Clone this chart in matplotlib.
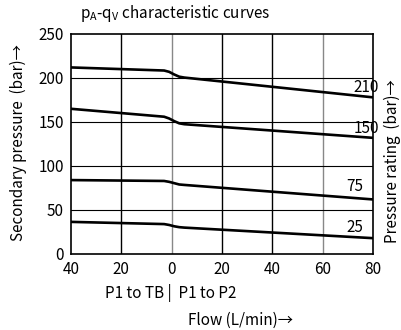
import matplotlib
matplotlib.use("Agg")
import matplotlib.pyplot as plt

plt.rcParams['font.family'] = ['Noto Sans CJK SC', 'DejaVu Sans']

# flow: negative = P1 to TB, positive = P1 to P2
flow = [-40, -3, -1, 1, 3, 5, 80]
p210 = [212, 208.5, 207, 204, 201.5, 200.5, 178]
p150 = [165, 156, 154, 151, 148.5, 147.5, 132]
p75 = [84, 83, 82, 80.5, 79, 78.5, 62]
p25 = [36.5, 34, 33, 31.5, 30.5, 30, 18]
ratings = ['210', '150', '75', '25']
xticks = [-40, -20, 0, 20, 40, 60, 80]
xticklabels = ['40', '20', '0', '20', '40', '60', '80']
yticks = [0, 50, 100, 150, 200, 250]

fig = plt.figure(figsize=(4.01, 3.30), dpi=100)
ax = fig.add_axes([71 / 401, 76 / 330, 302 / 401, 220 / 330])

for ys in [p210, p150, p75, p25]:
    ax.plot(flow, ys, color='black', linewidth=1.9, solid_capstyle='butt')

# label position: (right edge in flow units, baseline in bar)
label_pos = [(82.5, 184), (82.5, 137.5), (76, 71.5), (76, 25)]
for txt, (lx, ly) in zip(ratings, label_pos):
    ax.text(lx, ly, txt, ha='right', va='baseline', fontsize=11, clip_on=False)

ax.set_xlim(-40, 80)
ax.set_ylim(0, 250)
ax.set_xticks(xticks)
ax.set_xticklabels(xticklabels)
ax.set_yticks(yticks)
ax.tick_params(length=0, labelsize=11, pad=5)
for x in xticks[1:-1]:
    c = '#888888' if x in (0, 60) else 'black'
    ax.axvline(x, color=c, linewidth=1.0, zorder=0)
for y in yticks[1:-1]:
    ax.axhline(y, color='black', linewidth=0.8, zorder=0)
for s in ax.spines.values():
    s.set_linewidth(1.2)

fig.text(18 / 401, 1 - 143 / 330, 'Secondary pressure  (bar)→', rotation=90,
         ha='center', va='center', fontsize=11)
fig.text(392 / 401, 1 - 161 / 330, 'Pressure rating  (bar)→', rotation=90,
         ha='center', va='center', fontsize=11)
fig.text(80 / 401, 1 - 14 / 330, r'p$_\mathregular{A}$-q$_\mathregular{V}$ characteristic curves',
         ha='left', va='center', fontsize=11)
fig.text(171 / 401, 1 - 293 / 330, 'P1 to TB |  P1 to P2', ha='center', va='center', fontsize=11)
fig.text(240 / 401, 1 - 320 / 330, 'Flow (L/min)→', ha='center', va='center', fontsize=11)

fig.savefig('out.png', dpi=100)
